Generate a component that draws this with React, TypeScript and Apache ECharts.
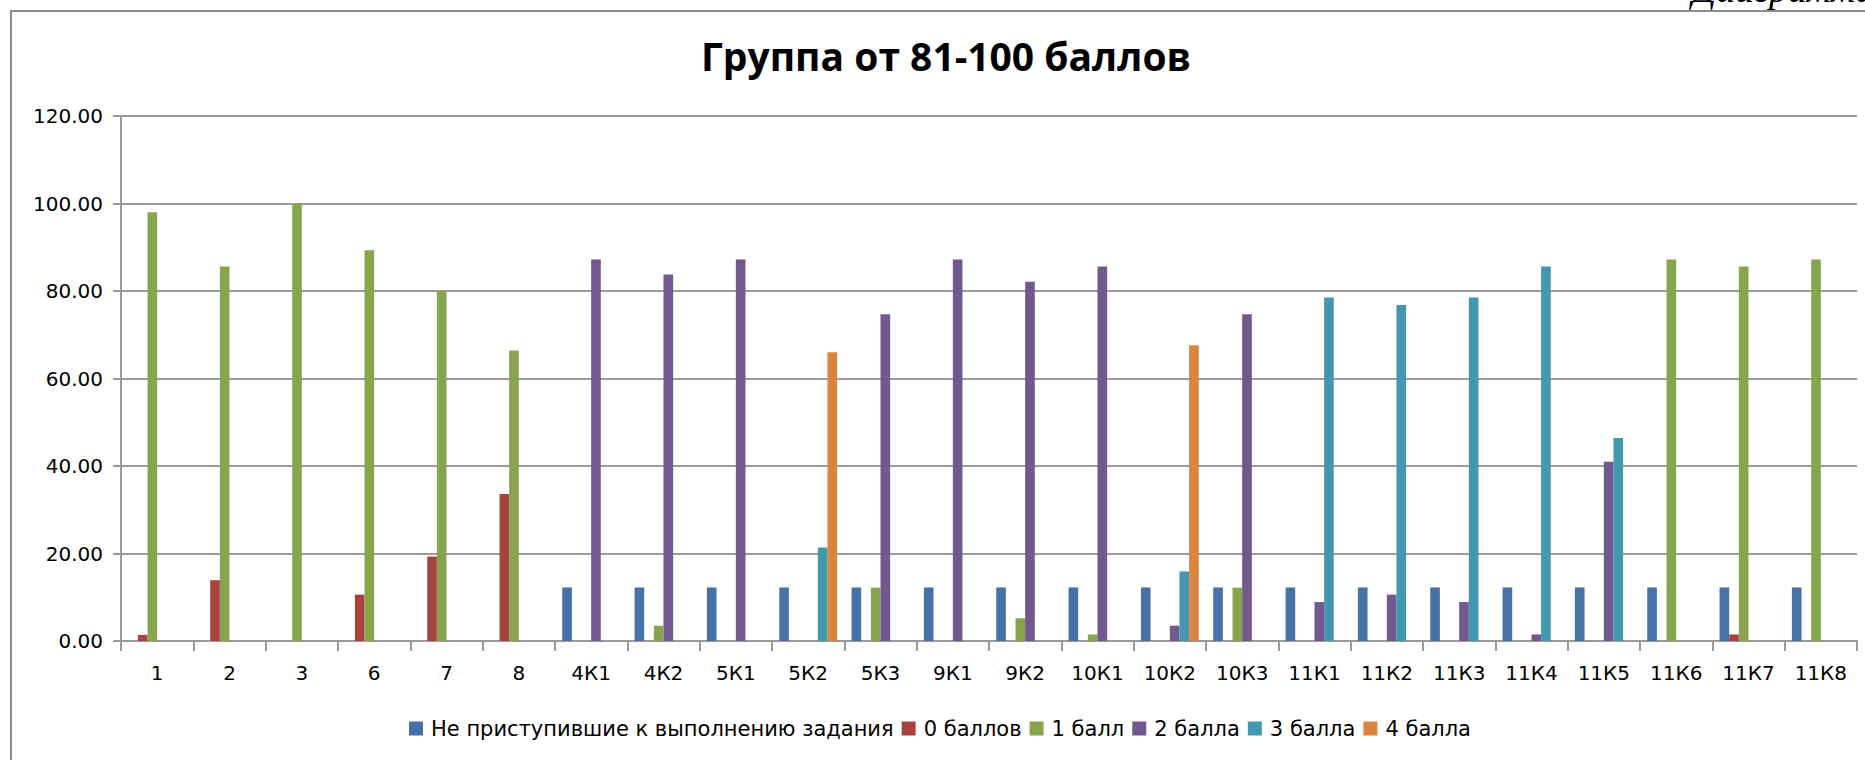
import React, { useEffect, useRef } from "react";
import * as echarts from "echarts";

const categories = [
  "1", "2", "3", "6", "7", "8", "4К1", "4К2", "5К1", "5К2", "5К3", "9К1",
  "9К2", "10К1", "10К2", "10К3", "11К1", "11К2", "11К3", "11К4", "11К5", "11К6", "11К7", "11К8",
];

const seriesNames = [
  "Не приступившие к выполнению задания",
  "0 баллов",
  "1 балл",
  "2 балла",
  "3 балла",
  "4 балла",
];

const notStarted = [0, 0, 0, 0, 0, 0, 12.24, 12.24, 12.24, 12.24, 12.24, 12.24, 12.24, 12.24, 12.24, 12.24, 12.24, 12.24, 12.24, 12.24, 12.24, 12.24, 12.24, 12.24];
const score0 = [1.4, 13.9, 0, 10.6, 19.3, 33.6, 0, 0, 0, 0, 0, 0, 0, 0, 0, 0, 0, 0, 0, 0, 0, 0, 1.5, 0];
const score1 = [98, 85.6, 100, 89.3, 80, 66.4, 0, 3.5, 0, 0, 12.2, 0, 5.2, 1.5, 0, 12.2, 0, 0, 0, 0, 0, 87.2, 85.6, 87.2];
const score2 = [0, 0, 0, 0, 0, 0, 87.2, 83.8, 87.2, 0, 74.7, 87.2, 82.1, 85.6, 3.5, 74.7, 8.9, 10.6, 8.9, 1.5, 41, 0, 0, 0];
const score3 = [0, 0, 0, 0, 0, 0, 0, 0, 0, 21.4, 0, 0, 0, 0, 15.9, 0, 78.5, 76.8, 78.5, 85.6, 46.4, 0, 0, 0];
const score4 = [0, 0, 0, 0, 0, 0, 0, 0, 0, 66, 0, 0, 0, 0, 67.6, 0, 0, 0, 0, 0, 0, 0, 0, 0];

const seriesData = [notStarted, score0, score1, score2, score3, score4];
const colors = ["#4672A8", "#A8423F", "#88A44D", "#71588F", "#4198AF", "#DB843D"];

const yTicks = { min: 0, max: 120, interval: 20 };

export default function App() {
  const ref = useRef<HTMLDivElement>(null);

  useEffect(() => {
    if (!ref.current) return;
    const chart = echarts.init(ref.current, null, { renderer: "svg" });
    const labelFont = "'DejaVu Sans', Verdana, sans-serif";
    chart.setOption({
      animation: false,
      backgroundColor: "#ffffff",
      color: colors,
      graphic: [
        {
          type: "rect",
          shape: { x: 11, y: 11, width: 1920, height: 800 },
          style: { fill: "none", stroke: "#8c8c8c", lineWidth: 2 },
          silent: true,
        },
        {
          type: "text",
          x: 1692,
          y: 8,
          style: {
            text: "Диаграмма",
            fontFamily: "'Liberation Serif', serif",
            fontStyle: "italic",
            fontSize: 38,
            fill: "#000",
            textVerticalAlign: "bottom",
          },
        },
        {
          type: "text",
          x: 946,
          y: 55,
          style: {
            text: "Группа от 81-100 баллов",
            fontFamily: "'Open Sans', sans-serif",
            fontWeight: "bold",
            fontSize: 39,
            fill: "#000",
            textAlign: "center",
            textVerticalAlign: "middle",
          },
        },
      ],
      legend: {
        data: seriesNames,
        left: 404,
        top: 713,
        icon: "rect",
        itemWidth: 14,
        itemHeight: 14,
        itemGap: 8,
        textStyle: { fontFamily: labelFont, fontSize: 21, color: "#000", padding: [0, 0, 0, 3] },
      },
      grid: { left: 121, right: 8, top: 116, bottom: 119, containLabel: false },
      xAxis: {
        type: "category",
        data: categories,
        axisLine: { lineStyle: { color: "#9a9a9a", width: 2 } },
        axisTick: { show: true, length: 10, alignWithLabel: false, lineStyle: { color: "#9a9a9a", width: 2 } },
        axisLabel: { fontFamily: labelFont, fontSize: 20, color: "#000", margin: 22, interval: 0 },
        splitLine: { show: false },
      },
      yAxis: {
        type: "value",
        min: yTicks.min,
        max: yTicks.max,
        interval: yTicks.interval,
        axisLine: { show: true, lineStyle: { color: "#9a9a9a", width: 2 } },
        axisTick: { show: true, length: 8, lineStyle: { color: "#9a9a9a", width: 2 } },
        axisLabel: {
          fontFamily: labelFont,
          fontSize: 20,
          color: "#000",
          margin: 18,
          formatter: (v: number) => v.toFixed(2),
        },
        splitLine: { show: true, lineStyle: { color: "#9a9a9a", width: 2 } },
      },
      series: seriesNames.map((name, i) => ({
        name,
        type: "bar",
        data: seriesData[i],
        barGap: "0%",
        barCategoryGap: "20%",
        itemStyle: { color: colors[i] },
      })),
    });
    return () => chart.dispose();
  }, []);

  return (
    <div
      ref={ref}
      style={{ position: "absolute", left: 0, top: 0, width: 1865, height: 760 }}
    />
  );
}
